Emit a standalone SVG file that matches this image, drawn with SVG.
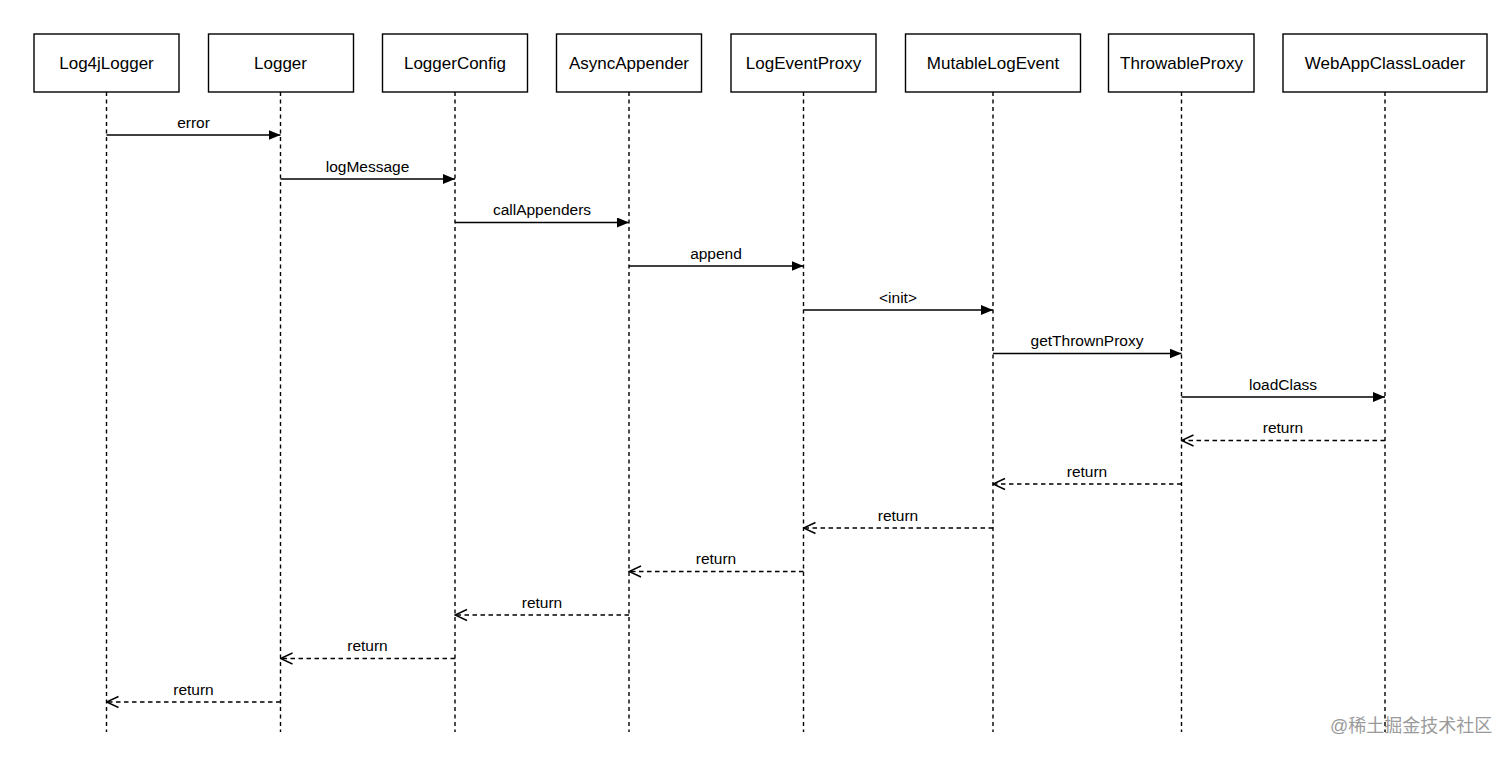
<svg xmlns="http://www.w3.org/2000/svg" width="1512" height="757" viewBox="0 0 1512 757">
<style>
.box{fill:#fff;stroke:#000;stroke-width:1.4}
.title{font-family:"Liberation Sans",Arial,sans-serif;font-size:17px;fill:#000;text-anchor:middle;dominant-baseline:central}
.life{stroke:#000;stroke-width:1.4;stroke-dasharray:4 3.5;fill:none}
.msg{stroke:#000;stroke-width:1.5;fill:none}
.ret{stroke:#000;stroke-width:1.5;fill:none;stroke-dasharray:4.5 3.5}
.lbl{font-family:"Liberation Sans",Arial,sans-serif;font-size:15.5px;fill:#000;text-anchor:middle}
.wm{font-family:"Liberation Sans","Noto Sans CJK SC",sans-serif;font-size:18px;fill:#9a9a9a}
</style>
<defs>
<marker id="solid" viewBox="0 0 12 10" refX="12" refY="5" markerWidth="12" markerHeight="10" markerUnits="userSpaceOnUse" orient="auto">
<path d="M0,0 L12,5 L0,10 Z" fill="#000"/>
</marker>
<marker id="open" viewBox="0 0 14 14" refX="13" refY="7" markerWidth="14" markerHeight="14" markerUnits="userSpaceOnUse" orient="auto">
<path d="M1,1.5 L13,7 L1,12.5" fill="none" stroke="#000" stroke-width="1.4"/>
</marker>
</defs>
<rect width="1512" height="757" fill="#fff"/>
<g id="n-Log4jLogger"><rect class="box" x="34" y="34" width="145" height="58"/><text class="title" x="106.5" y="63">Log4jLogger</text><line class="life" x1="106.5" y1="92" x2="106.5" y2="732"/></g>
<g id="n-Logger"><rect class="box" x="208.5" y="34" width="145" height="58"/><text class="title" x="280.5" y="63">Logger</text><line class="life" x1="280.5" y1="92" x2="280.5" y2="732"/></g>
<g id="n-LoggerConfig"><rect class="box" x="382.5" y="34" width="145" height="58"/><text class="title" x="455" y="63">LoggerConfig</text><line class="life" x1="455" y1="92" x2="455" y2="732"/></g>
<g id="n-AsyncAppender"><rect class="box" x="556.5" y="34" width="145" height="58"/><text class="title" x="629" y="63">AsyncAppender</text><line class="life" x1="629" y1="92" x2="629" y2="732"/></g>
<g id="n-LogEventProxy"><rect class="box" x="731" y="34" width="145" height="58"/><text class="title" x="803.5" y="63">LogEventProxy</text><line class="life" x1="803.5" y1="92" x2="803.5" y2="732"/></g>
<g id="n-MutableLogEvent"><rect class="box" x="905.5" y="34" width="175" height="58"/><text class="title" x="993" y="63">MutableLogEvent</text><line class="life" x1="993" y1="92" x2="993" y2="732"/></g>
<g id="n-ThrowableProxy"><rect class="box" x="1108.5" y="34" width="145.5" height="58"/><text class="title" x="1181.5" y="63">ThrowableProxy</text><line class="life" x1="1181.5" y1="92" x2="1181.5" y2="732"/></g>
<g id="n-WebAppClassLoader"><rect class="box" x="1283" y="34" width="204" height="58"/><text class="title" x="1385" y="63">WebAppClassLoader</text><line class="life" x1="1385" y1="92" x2="1385" y2="732"/></g>
<g id="connectors">
<line class="msg" x1="106.5" y1="135" x2="280.5" y2="135" marker-end="url(#solid)"/>
<line class="msg" x1="280.5" y1="179" x2="455" y2="179" marker-end="url(#solid)"/>
<line class="msg" x1="455" y1="222.5" x2="629" y2="222.5" marker-end="url(#solid)"/>
<line class="msg" x1="629" y1="266" x2="803.5" y2="266" marker-end="url(#solid)"/>
<line class="msg" x1="803.5" y1="310" x2="993" y2="310" marker-end="url(#solid)"/>
<line class="msg" x1="993" y1="353.5" x2="1181.5" y2="353.5" marker-end="url(#solid)"/>
<line class="msg" x1="1181.5" y1="397" x2="1385" y2="397" marker-end="url(#solid)"/>
<line class="ret" x1="1385" y1="440.5" x2="1181.5" y2="440.5" marker-end="url(#open)"/>
<line class="ret" x1="1181.5" y1="484" x2="993" y2="484" marker-end="url(#open)"/>
<line class="ret" x1="993" y1="528" x2="803.5" y2="528" marker-end="url(#open)"/>
<line class="ret" x1="803.5" y1="571.5" x2="629" y2="571.5" marker-end="url(#open)"/>
<line class="ret" x1="629" y1="615" x2="455" y2="615" marker-end="url(#open)"/>
<line class="ret" x1="455" y1="658.5" x2="280.5" y2="658.5" marker-end="url(#open)"/>
<line class="ret" x1="280.5" y1="702" x2="106.5" y2="702" marker-end="url(#open)"/>
<text class="lbl" x="193.5" y="128">error</text>
<text class="lbl" x="367.5" y="171.5">logMessage</text>
<text class="lbl" x="542" y="215">callAppenders</text>
<text class="lbl" x="716" y="258.5">append</text>
<text class="lbl" x="898" y="302.5">&lt;init&gt;</text>
<text class="lbl" x="1087" y="346">getThrownProxy</text>
<text class="lbl" x="1283" y="389.5">loadClass</text>
<text class="lbl" x="1283" y="433">return</text>
<text class="lbl" x="1087" y="476.5">return</text>
<text class="lbl" x="898" y="520.5">return</text>
<text class="lbl" x="716" y="564">return</text>
<text class="lbl" x="542" y="607.5">return</text>
<text class="lbl" x="367.5" y="651">return</text>
<text class="lbl" x="193.5" y="694.5">return</text>
</g>
<text class="wm" x="1330" y="732">@稀土掘金技术社区</text>
</svg>
